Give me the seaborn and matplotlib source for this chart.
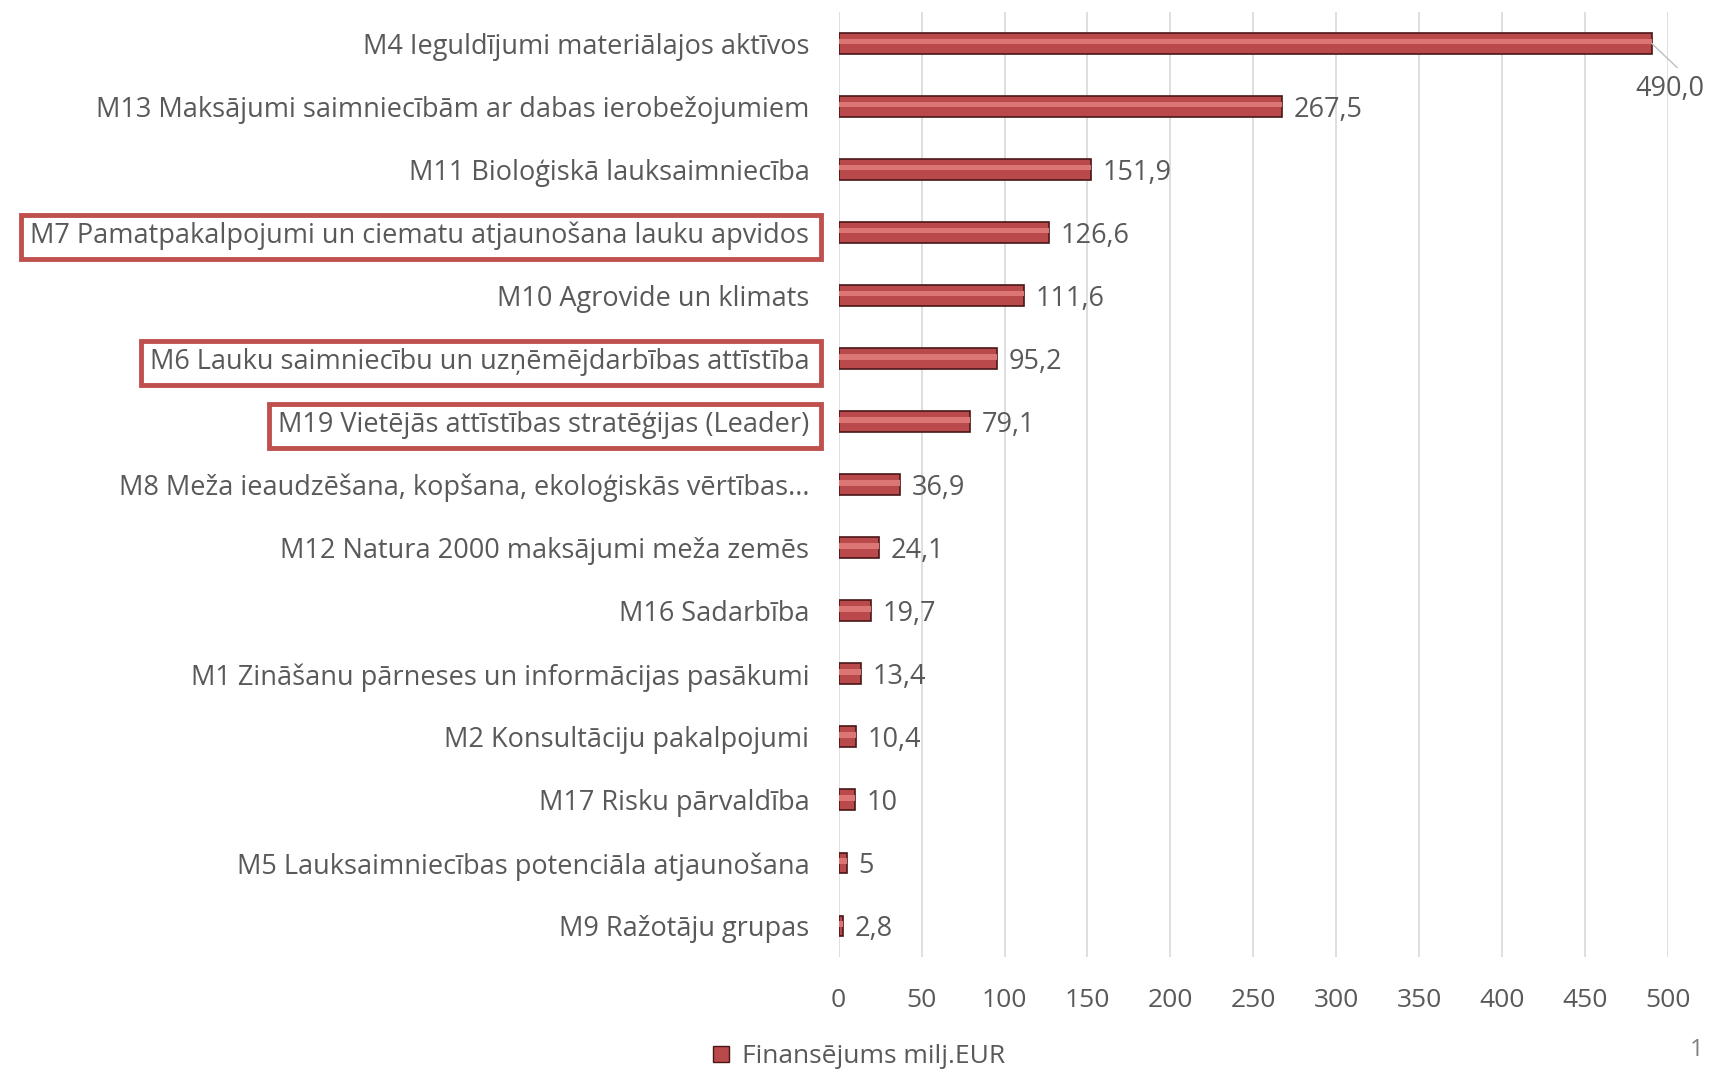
import pandas as pd
import seaborn as sns
import matplotlib.pyplot as plt
from matplotlib.patches import Rectangle
from matplotlib.lines import Line2D

# Data
measures = [
    'M4 Ieguldījumi materiālajos aktīvos',
    'M13 Maksājumi saimniecībām ar dabas ierobežojumiem',
    'M11 Bioloģiskā lauksaimniecība',
    'M7 Pamatpakalpojumi un ciematu atjaunošana lauku apvidos',
    'M10 Agrovide un klimats',
    'M6 Lauku saimniecību un uzņēmējdarbības attīstība',
    'M19 Vietējās attīstības stratēģijas (Leader)',
    'M8 Meža ieaudzēšana, kopšana, ekoloģiskās vērtības...',
    'M12 Natura 2000 maksājumi meža zemēs',
    'M16 Sadarbība',
    'M1 Zināšanu pārneses un informācijas pasākumi',
    'M2 Konsultāciju pakalpojumi',
    'M17 Risku pārvaldība',
    'M5 Lauksaimniecības potenciāla atjaunošana',
    'M9 Ražotāju grupas',
]
funding = [490.0, 267.5, 151.9, 126.6, 111.6, 95.2, 79.1, 36.9, 24.1, 19.7, 13.4, 10.4, 10, 5, 2.8]
value_labels = ['490,0', '267,5', '151,9', '126,6', '111,6', '95,2', '79,1', '36,9',
                '24,1', '19,7', '13,4', '10,4', '10', '5', '2,8']
highlighted = ['M7 Pamatpakalpojumi un ciematu atjaunošana lauku apvidos',
               'M6 Lauku saimniecību un uzņēmējdarbības attīstība',
               'M19 Vietējās attīstības stratēģijas (Leader)']
x_ticks = [0, 50, 100, 150, 200, 250, 300, 350, 400, 450, 500]
legend_label = 'Finansējums milj.EUR'

df = pd.DataFrame({'Measure': measures, 'Funding': funding})

sns.set_style('white')
plt.rcParams['font.family'] = ['Open Sans', 'DejaVu Sans']

text_col = '#595959'
bar_col = '#B9494A'
red_box = '#C0504D'

fig = plt.figure(figsize=(17.15, 10.74), dpi=100)
ax = fig.add_axes([0.489, 0.1085, 0.4837, 0.8805])

sns.barplot(data=df, x='Funding', y='Measure', orient='h', color=bar_col,
            width=0.33, edgecolor='#4a1616', linewidth=1.2, saturation=1, ax=ax)
# highlight stripe for the bevelled look
pos = [i - 0.03 for i in range(len(funding))]
ax.barh(pos, funding, height=0.09, color='#dc7674', linewidth=0, zorder=3)

ax.set_xlim(0, 500)
ax.set_ylim(14.5, -0.5)
ax.set_xticks(x_ticks)
ax.xaxis.grid(True, color='#d9d9d9', linewidth=1.2)
ax.set_axisbelow(True)
for s in ax.spines.values():
    s.set_visible(False)
ax.set_xlabel('')
ax.set_ylabel('')
ax.tick_params(axis='x', length=0, labelsize=19, labelcolor=text_col, pad=22)
ax.tick_params(axis='y', length=0, labelsize=19.5, labelcolor=text_col, pad=21)

# value labels
for i, (v, lab) in enumerate(zip(funding, value_labels)):
    if i == 0:
        ax.annotate(lab, xy=(v, i), xytext=(480, i + 0.72), fontsize=19.5, color=text_col,
                    va='center', ha='left',
                    arrowprops=dict(arrowstyle='-', color='#bfbfbf', lw=1, shrinkA=4, shrinkB=0,
                                    relpos=(0.72, 1.0)))
    else:
        ax.text(v + 7, i + 0.05, lab, fontsize=19.5, color=text_col, va='center', ha='left')

# legend below the plot
handle = Line2D([], [], marker='s', color=bar_col, markeredgecolor='#4a1616',
                linestyle='', markersize=12)
fig.legend([handle], [legend_label], loc='center', bbox_to_anchor=(0.5, 0.016),
           frameon=False, fontsize=19, labelcolor=text_col, handlelength=0.8,
           handletextpad=0.4)

fig.text(0.9935, 0.022, '1', fontsize=17, color='#7f7f7f', ha='right', va='center')

# red frames around selected measures
fig.canvas.draw()
renderer = fig.canvas.get_renderer()
right_px = 821
for lbl in ax.get_yticklabels():
    if lbl.get_text() in highlighted:
        bb = lbl.get_window_extent(renderer)
        x0 = bb.x0 - 9
        y0 = bb.y0 - 9
        h = bb.height + 16
        fig.add_artist(Rectangle((x0 / fig.bbox.width, y0 / fig.bbox.height),
                                 (right_px - x0) / fig.bbox.width, h / fig.bbox.height,
                                 transform=fig.transFigure, fill=False,
                                 edgecolor=red_box, linewidth=3.5))

plt.savefig('out.png', dpi=100)
